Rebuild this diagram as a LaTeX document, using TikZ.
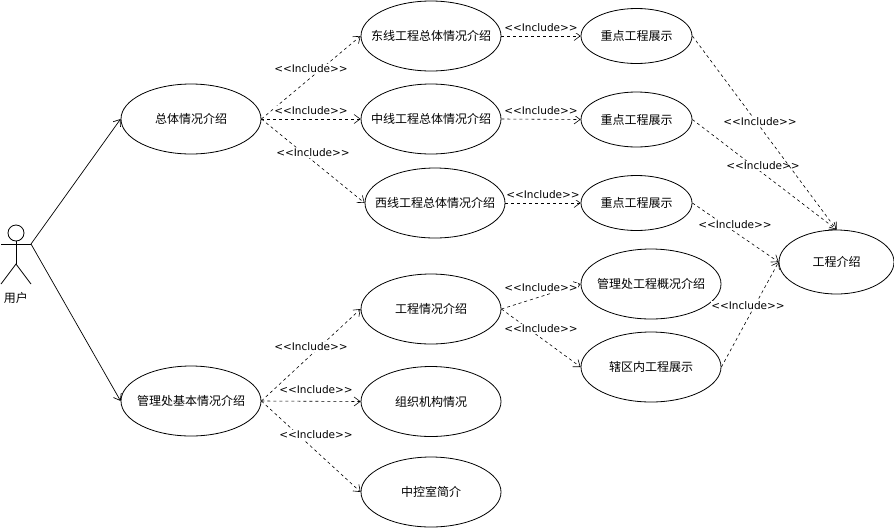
\documentclass[tikz,border=0pt]{standalone}
\usepackage{fontspec}
\setmainfont{DejaVu Sans}[Ligatures=NoCommon]
\newfontfamily\cjk{Noto Sans CJK SC}
\usetikzlibrary{shapes.geometric,arrows.meta}
\newcommand{\uc}[1]{\makebox[0pt][c]{#1}}
\newcommand{\incltext}{{<}{<}Include{>}{>}}
\tikzset{
  usecase/.style={ellipse,draw=black,line width=0.8pt,fill=white,inner sep=0pt,font=\cjk\fontsize{12}{14}\selectfont},
  big/.style={usecase,minimum width=140pt,minimum height=70pt},
  small/.style={usecase,minimum width=111pt,minimum height=55pt},
  assoc/.style={draw=black,line width=0.7pt,-{Straight Barb[length=6pt,width=9pt]}},
  incl/.style={draw=black,line width=0.6pt,dash pattern=on 3pt off 3pt,-{Straight Barb[length=6pt,width=9pt]}},
  lab/.style={fill=white,inner sep=0.5pt,font=\fontsize{10.5}{12}\selectfont},
  stick/.style={draw=black,line width=0.8pt}
}
\begin{document}
\begin{tikzpicture}[x=1pt,y=-1pt]
\useasboundingbox (0,0) rectangle (894,528);
% actor
\node[circle,draw=black,line width=0.8pt,minimum size=16pt,inner sep=0pt] (head) at (16,233) {};
\coordinate (neck) at (16,264);
\coordinate (lhand) at (1,244);
\coordinate (rhand) at (31,244);
\coordinate (lfoot) at (1,284);
\coordinate (rfoot) at (31,284);
\draw[stick] (head.south) -- (neck);
\draw[stick] (lhand) -- (rhand);
\draw[stick] (lfoot) -- (neck) -- (rfoot);
\node[font=\cjk\fontsize{12}{14}\selectfont,inner sep=0pt] (actorlabel) at (16,298) {用户};
% use cases
\node[big] (all) at (191,119) {\uc{总体情况介绍}};
\node[big] (east) at (431,36) {\uc{东线工程总体情况介绍}};
\node[big] (mid) at (431,119) {\uc{中线工程总体情况介绍}};
\node[big] (west) at (435,203) {\uc{西线工程总体情况介绍}};
\node[small] (k1) at (636.5,36) {\uc{重点工程展示}};
\node[small] (k2) at (636.5,119.5) {\uc{重点工程展示}};
\node[small] (k3) at (636.5,203) {\uc{重点工程展示}};
\node[usecase,minimum width=115pt,minimum height=64pt] (proj) at (836.5,262) {\uc{工程介绍}};
\node[big] (mgmt) at (191,401) {\uc{管理处基本情况介绍}};
\node[big] (eng) at (431,309) {\uc{工程情况介绍}};
\node[big] (org) at (431,401.5) {\uc{组织机构情况}};
\node[big] (ctrl) at (431,492) {\uc{中控室简介}};
\node[big] (over) at (651,284) {\uc{管理处工程概况介绍}};
\node[big] (area) at (651,367) {\uc{辖区内工程展示}};
% connectors
\draw[assoc] (rhand) -- (all.west);
\draw[assoc] (rhand) -- (mgmt.west);
\draw[incl] (all.east) -- (east.west);
\draw[incl] (all.east) -- (mid.west);
\draw[incl] (all.east) -- (west.west);
\draw[incl] (east.east) -- (k1.west);
\draw[incl] (mid.east) -- (k2.west);
\draw[incl] (west.east) -- (k3.west);
\draw[incl] (k2.east) -- (proj.north);
\node[lab] (l8) at (763,166) {\incltext};
\draw[incl] (k1.east) -- (proj.north);
\draw[incl] (k3.east) -- (proj.west);
\draw[incl] (area.east) -- (proj.west);
\draw[incl] (eng.east) -- (over.west);
\draw[incl] (eng.east) -- (area.west);
\draw[incl] (mgmt.east) -- (eng.west);
\draw[incl] (mgmt.east) -- (org.west);
\draw[incl] (mgmt.east) -- (ctrl.west);
% labels
\node[lab] (l1) at (311,69) {\incltext};
\node[lab] (l2) at (311,111) {\incltext};
\node[lab] (l3) at (313,153) {\incltext};
\node[lab] (l4) at (541,28) {\incltext};
\node[lab] (l5) at (541,111) {\incltext};
\node[lab] (l6) at (543,195) {\incltext};
\node[lab] (l7) at (760,122) {\incltext};
\node[lab] (l9) at (735,225) {\incltext};
\node[lab] (l10) at (541,288) {\incltext};
\node[lab] (l11) at (541,329) {\incltext};
\node[lab] (l12) at (748,306) {\incltext};
\node[lab] (l13) at (311,347) {\incltext};
\node[lab] (l14) at (316,390) {\incltext};
\node[lab] (l15) at (316,435) {\incltext};
\end{tikzpicture}
\end{document}
